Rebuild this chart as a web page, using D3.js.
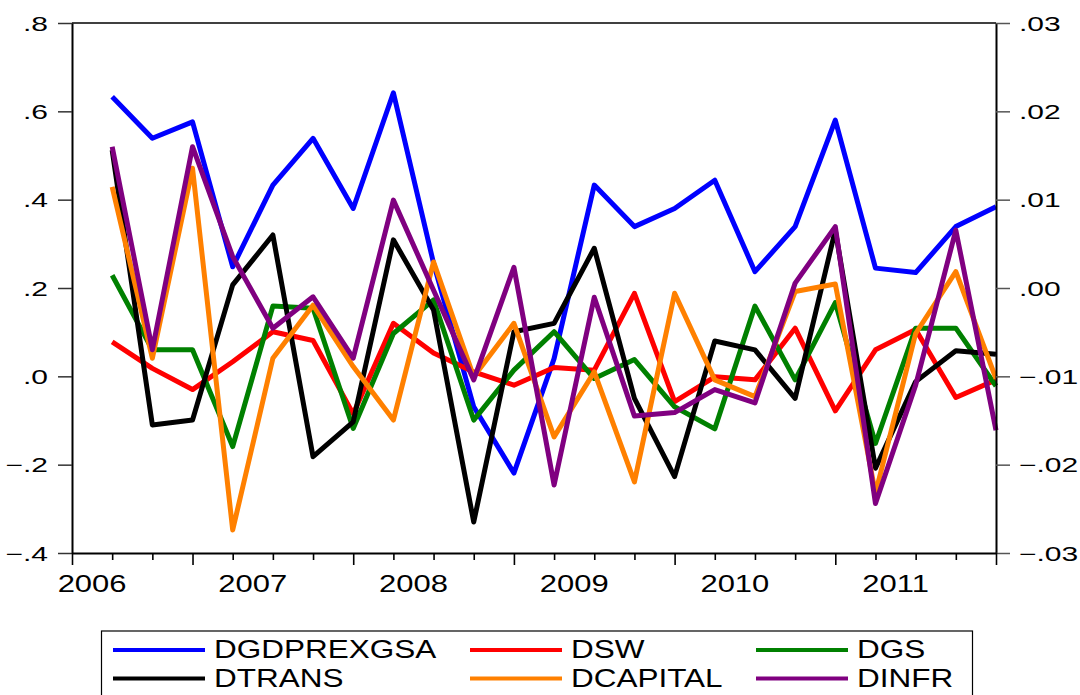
<!DOCTYPE html>
<html>
<head>
<meta charset="utf-8">
<script src="https://cdnjs.cloudflare.com/ajax/libs/d3/7.8.5/d3.min.js"></script>
<style>
  body { margin: 0; background: #fff; }
  svg { display: block; font-family: "Liberation Sans", Arial, sans-serif; }
</style>
</head>
<body>
<div id="chart"></div>
<script>
// quarterly observations, first one sits one quarter after the axis start
var dgdprexgsa = [0.633, 0.539, 0.576, 0.248, 0.433, 0.539, 0.380, 0.642, 0.256, -0.069, -0.219, 0.040,
                  0.433, 0.339, 0.380, 0.444, 0.237, 0.339, 0.580, 0.245, 0.235, 0.339, 0.384];
var dsw       = [0.078, 0.018, -0.030, 0.033, 0.101, 0.081, -0.085, 0.120, 0.053, 0.010, -0.020, 0.020,
                  0.014, 0.188, -0.057, -0.001, -0.008, 0.109, -0.078, 0.060, 0.106, -0.048, -0.008];
var dgs       = [0.229, 0.060, 0.060, -0.159, 0.159, 0.154, -0.118, 0.097, 0.173, -0.099, 0.014, 0.101,
                  -0.005, 0.038, -0.069, -0.119, 0.159, -0.008, 0.167, -0.152, 0.109, 0.109, -0.022];
var dtrans    = [0.512, -0.110, -0.099, 0.207, 0.320, -0.182, -0.103, 0.309, 0.150, -0.330, 0.101, 0.120,
                  0.290, -0.050, -0.227, 0.080, 0.060, -0.050, 0.331, -0.208, -0.012, 0.058, 0.050];
var dcapital  = [0.429, 0.041, 0.471, -0.348, 0.041, 0.161, 0.022, -0.099, 0.259, -0.001, 0.120, -0.137,
                  0.010, -0.239, 0.188, -0.008, -0.046, 0.192, 0.209, -0.265, 0.097, 0.237, -0.005];
var dinfr     = [0.520, 0.060, 0.520, 0.271, 0.109, 0.180, 0.041, 0.399, 0.195, -0.008, 0.247, -0.246,
                  0.179, -0.090, -0.082, -0.030, -0.060, 0.211, 0.339, -0.288, -0.020, 0.331, -0.122];

var seriesNames = ["DGDPREXGSA", "DSW", "DGS", "DTRANS", "DCAPITAL", "DINFR"];
var seriesColors = ["#0000ff", "#ff0000", "#008000", "#000000", "#ff8000", "#800080"];
var seriesValues = [dgdprexgsa, dsw, dgs, dtrans, dcapital, dinfr];

var years = [2006, 2007, 2008, 2009, 2010, 2011];
var leftTicks = [-0.4, -0.2, 0.0, 0.2, 0.4, 0.6, 0.8];
var rightTicks = [-0.03, -0.02, -0.01, 0.00, 0.01, 0.02, 0.03];
var longQuarterTicks = [0, 3, 7, 11, 15, 19, 23];

// Set the dimensions of the canvas / graph
var width = 1080, height = 695;
var plot = {left: 72, right: 996, top: 23, bottom: 553};

var x = d3.scaleLinear().domain([0, 23]).range([plot.left, plot.right]);
var y = d3.scaleLinear().domain([-0.4, 0.8]).range([plot.bottom, plot.top]);
var yRight = d3.scaleLinear().domain([-0.03, 0.03]).range([plot.bottom, plot.top]);

// drop the leading zero like the original (".8", "-.03")
function noZero(fmt) {
  return function(d) { return d3.format(fmt)(d).replace("0.", "."); };
}

var svg = d3.select("#chart")
  .append("svg")
    .attr("width", width)
    .attr("height", height);

// Lines
var valueline = d3.line()
  .x(function(d, i) { return x(i + 1); })
  .y(function(d) { return y(d); });

seriesValues.forEach(function(vals, k) {
  svg.append("path")
    .datum(vals)
    .attr("fill", "none")
    .attr("stroke", seriesColors[k])
    .attr("stroke-width", 5)
    .attr("stroke-linejoin", "round")
    .attr("d", valueline);
});

// Top border
svg.append("line")
  .attr("x1", plot.left).attr("x2", plot.right)
  .attr("y1", plot.top).attr("y2", plot.top)
  .attr("stroke", "#000").attr("stroke-width", 1.4);

// Left axis
var gl = svg.append("g")
  .attr("transform", "translate(" + plot.left + ",0)")
  .call(d3.axisLeft(y).tickValues(leftTicks).tickSize(14).tickSizeOuter(0).tickFormat(noZero(".1f")));
gl.select(".domain").attr("stroke-width", 2);
gl.selectAll(".tick line").attr("stroke", "#333").attr("stroke-width", 1.5);
gl.selectAll(".tick text")
  .attr("x", null).attr("dy", null)
  .attr("text-anchor", "end")
  .attr("font-size", 20)
  .attr("fill", "#000")
  .attr("transform", "translate(-24,7) scale(1.5,1)");

// Right axis
var gr = svg.append("g")
  .attr("transform", "translate(" + plot.right + ",0)")
  .call(d3.axisRight(yRight).tickValues(rightTicks).tickSize(14).tickSizeOuter(0).tickFormat(noZero(".2f")));
gr.select(".domain").attr("stroke-width", 2);
gr.selectAll(".tick line").attr("stroke", "#555").attr("stroke-width", 1.5);
gr.selectAll(".tick text")
  .attr("x", null).attr("dy", null)
  .attr("text-anchor", "start")
  .attr("font-size", 20)
  .attr("fill", "#000")
  .attr("transform", "translate(23,7) scale(1.5,1)");

// Bottom axis
var gb = svg.append("g")
  .attr("transform", "translate(0," + plot.bottom + ")")
  .call(d3.axisBottom(x).tickValues(d3.range(0, 24)).tickSize(7).tickSizeOuter(0).tickFormat(""));
gb.select(".domain").attr("stroke-width", 2.2);
gb.selectAll(".tick line")
  .attr("stroke-width", 1.6)
  .attr("y2", function(d) { return longQuarterTicks.indexOf(d) >= 0 ? 12 : 7; });

svg.selectAll(".year")
  .data(years)
  .enter().append("text")
    .attr("class", "year")
    .attr("text-anchor", "middle")
    .attr("font-size", 23.3)
    .attr("transform", function(d) {
      return "translate(" + x(4 * (d - 2006) + 0.5) + ",592) scale(1.33,1)";
    })
    .text(function(d) { return d; });

// Legend
var legend = svg.append("g");
legend.append("rect")
  .attr("x", 101.5).attr("y", 631)
  .attr("width", 871).attr("height", 80)
  .attr("fill", "none").attr("stroke", "#000").attr("stroke-width", 1.2);

var legendCols = [113, 470, 756];
var legendRows = [650, 678.5];
seriesNames.forEach(function(name, k) {
  var cx = legendCols[k % 3], cy = legendRows[Math.floor(k / 3)];
  legend.append("line")
    .attr("x1", cx).attr("x2", cx + 92)
    .attr("y1", cy).attr("y2", cy)
    .attr("stroke", seriesColors[k]).attr("stroke-width", 4);
  legend.append("text")
    .attr("font-size", 25)
    .attr("transform", "translate(" + (cx + 101) + "," + (cy + 8.3) + ") scale(1.26,1)")
    .text(name);
});
</script>
</body>
</html>
